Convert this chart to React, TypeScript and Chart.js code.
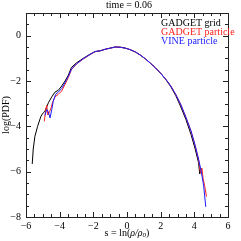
import React, { useEffect, useRef } from "react";
import { Chart, registerables } from "chart.js";

Chart.register(...registerables);

const titleText = "time = 0.06";
const seriesNames = ["GADGET grid", "GADGET particle", "VINE particle"];
const seriesColors = ["#000000", "#ff2020", "#1a1aff"];

const gridS = [-5.63, -5.57, -5.47, -5.31, -5.11, -4.97, -4.87, -4.67, -4.47, -4.28, -4.08, -3.88, -3.68, -3.49, -3.3, -3.0, -2.6, -2.2, -1.9, -1.6, -1.3, -1.0, -0.7, -0.4, -0.1, 0.2, 0.5, 0.8, 1.1, 1.4, 1.7, 2.0, 2.3, 2.6, 2.9, 3.2, 3.5, 3.8, 4.05, 4.25, 4.32, 4.38, 4.43];
const gridV = [-5.66, -5.0, -4.44, -4.0, -3.55, -3.4, -3.33, -2.96, -2.7, -2.49, -2.41, -2.22, -2.0, -1.75, -1.4, -1.2, -1.0, -0.82, -0.7, -0.67, -0.6, -0.55, -0.5, -0.51, -0.55, -0.62, -0.72, -0.86, -1.03, -1.22, -1.43, -1.66, -1.93, -2.25, -2.65, -3.15, -3.7, -4.35, -5.0, -5.6, -6.1, -5.95, -5.85];

const gadgetS = [-4.91, -4.83, -4.77, -4.7, -4.6, -4.51, -4.43, -4.28, -4.08, -3.88, -3.68, -3.49, -3.3, -3.0, -2.6, -2.2, -1.9, -1.6, -1.3, -1.0, -0.7, -0.4, -0.1, 0.2, 0.5, 0.8, 1.1, 1.4, 1.7, 2.0, 2.3, 2.6, 2.9, 3.2, 3.5, 3.8, 4.05, 4.25, 4.37, 4.45, 4.52, 4.62, 4.72];
const gadgetV = [-3.78, -3.26, -3.08, -3.5, -3.35, -3.19, -2.96, -2.7, -2.59, -2.44, -2.15, -1.85, -1.5, -1.25, -1.03, -0.84, -0.71, -0.67, -0.6, -0.55, -0.5, -0.51, -0.55, -0.62, -0.72, -0.86, -1.03, -1.22, -1.43, -1.66, -1.92, -2.22, -2.6, -3.05, -3.6, -4.2, -4.85, -5.45, -6.05, -5.85, -6.3, -6.65, -7.1];

const vineS = [-4.87, -4.77, -4.68, -4.57, -4.47, -4.38, -4.24, -4.08, -3.88, -3.68, -3.49, -3.3, -3.0, -2.6, -2.2, -1.9, -1.6, -1.3, -1.0, -0.7, -0.4, -0.1, 0.2, 0.5, 0.8, 1.1, 1.4, 1.7, 2.0, 2.3, 2.6, 2.9, 3.2, 3.5, 3.8, 4.05, 4.25, 4.4, 4.55, 4.68];
const vineV = [-3.52, -3.26, -3.35, -3.63, -3.26, -2.89, -2.59, -2.49, -2.33, -2.07, -1.8, -1.48, -1.24, -1.02, -0.83, -0.7, -0.67, -0.6, -0.55, -0.5, -0.51, -0.55, -0.62, -0.72, -0.86, -1.03, -1.22, -1.43, -1.66, -1.92, -2.22, -2.6, -3.05, -3.6, -4.2, -4.85, -5.45, -5.95, -6.6, -7.55];

const xMajorTicks = [-6, -4, -2, 0, 2, 4, 6];
const yMajorTicks = [-8, -6, -4, -2, 0];

const X_MIN = -6, X_MAX = 6, Y_MIN = -8, Y_MAX = 1;
const SERIF = "'Liberation Serif', 'DejaVu Serif', serif";

const toPoints = (s: number[], v: number[]) => s.map((x, i) => ({ x, y: v[i] }));

const framePlugin = {
  id: "frameTicks",
  afterDraw(chart: any) {
    const { ctx, chartArea: a, scales } = chart;
    const xs = scales.x, ys = scales.y;
    ctx.save();
    ctx.strokeStyle = "#222";
    ctx.lineWidth = 1;
    ctx.strokeRect(Math.round(a.left) + 0.5, Math.round(a.top) + 0.5, Math.round(a.right - a.left), Math.round(a.bottom - a.top));
    ctx.beginPath();
    for (let v = X_MIN; v <= X_MAX + 1e-9; v += 0.5) {
      const px = Math.round(xs.getPixelForValue(v)) + 0.5;
      const major = Math.abs(v / 2 - Math.round(v / 2)) < 1e-6;
      const len = major ? 5 : 3;
      ctx.moveTo(px, a.bottom); ctx.lineTo(px, a.bottom - len);
      ctx.moveTo(px, a.top); ctx.lineTo(px, a.top + len);
    }
    for (let v = Y_MIN; v <= Y_MAX + 1e-9; v += 0.5) {
      const py = Math.round(ys.getPixelForValue(v)) + 0.5;
      const major = Math.abs(v / 2 - Math.round(v / 2)) < 1e-6;
      const len = major ? 5 : 3;
      ctx.moveTo(a.left, py); ctx.lineTo(a.left + len, py);
      ctx.moveTo(a.right, py); ctx.lineTo(a.right - len, py);
    }
    ctx.stroke();

    // title
    ctx.fillStyle = "#000";
    ctx.textAlign = "center";
    ctx.textBaseline = "middle";
    ctx.font = `10px ${SERIF}`;
    ctx.fillText(titleText, (a.left + a.right) / 2 + 2, 5);

    // legend
    ctx.textAlign = "left";
    ctx.font = `10px ${SERIF}`;
    seriesNames.forEach((n, i) => {
      ctx.fillStyle = seriesColors[i];
      ctx.fillText(n, 161, 23 + i * 9);
    });

    // y axis title
    ctx.fillStyle = "#000";
    ctx.save();
    ctx.translate(6, (a.top + a.bottom) / 2);
    ctx.rotate(-Math.PI / 2);
    ctx.textAlign = "center";
    ctx.font = `10px ${SERIF}`;
    ctx.fillText("log(PDF)", 0, 0);
    ctx.restore();

    // x axis title: s = ln(ρ/ρ0)
    const parts: [string, string, number][] = [
      ["s = ln(", `10px ${SERIF}`, 0],
      ["ρ/ρ", `italic 10px ${SERIF}`, 0],
      ["0", `italic 7px ${SERIF}`, 2],
      [")", `10px ${SERIF}`, 0],
    ];
    let total = 0;
    parts.forEach(([t, f]) => { ctx.font = f; total += ctx.measureText(t).width; });
    let x = (a.left + a.right) / 2 - total / 2;
    ctx.textAlign = "left";
    parts.forEach(([t, f, dy]) => {
      ctx.font = f;
      ctx.fillText(t, x, 233 + dy);
      x += ctx.measureText(t).width;
    });
    ctx.restore();
  },
};

export default function App() {
  const ref = useRef<HTMLCanvasElement>(null);
  useEffect(() => {
    if (!ref.current) return;
    const chart = new Chart(ref.current, {
      type: "line",
      data: {
        datasets: [
          { label: seriesNames[0], data: toPoints(gridS, gridV), borderColor: seriesColors[0], order: 3 },
          { label: seriesNames[1], data: toPoints(gadgetS, gadgetV), borderColor: seriesColors[1], order: 2 },
          { label: seriesNames[2], data: toPoints(vineS, vineV), borderColor: seriesColors[2], order: 1 },
        ].map((d) => ({ ...d, borderWidth: 1, pointRadius: 0, tension: 0, fill: false })),
      },
      options: {
        responsive: false,
        devicePixelRatio: 1,
        animation: false,
        layout: { padding: { top: 13, right: 13, left: 0, bottom: 0 } },
        plugins: { legend: { display: false }, tooltip: { enabled: false }, title: { display: false } },
        scales: {
          x: {
            type: "linear",
            min: X_MIN,
            max: X_MAX,
            grid: { display: false, drawTicks: false },
            border: { display: false },
            afterBuildTicks: (s: any) => { s.ticks = xMajorTicks.map((v) => ({ value: v })); },
            afterFit: (s: any) => { s.height = 24; },
            ticks: {
              padding: 3,
              maxRotation: 0,
              autoSkip: false,
              color: "#000",
              font: { family: SERIF, size: 10 },
              callback: (v: any) => (Number(v) < 0 ? "\u2212" + Math.abs(Number(v)) : String(v)),
            },
          },
          y: {
            type: "linear",
            min: Y_MIN,
            max: Y_MAX,
            grid: { display: false, drawTicks: false },
            border: { display: false },
            afterBuildTicks: (s: any) => { s.ticks = yMajorTicks.map((v) => ({ value: v })); },
            afterFit: (s: any) => { s.width = 26; },
            ticks: {
              padding: 5,
              autoSkip: false,
              color: "#000",
              font: { family: SERIF, size: 10 },
              callback: (v: any) => (Number(v) < 0 ? "\u2212" + Math.abs(Number(v)) : String(v)),
            },
          },
        },
      },
      plugins: [framePlugin],
    } as any);
    return () => chart.destroy();
  }, []);
  return (
    <div style={{ position: "absolute", left: 0, top: 0, width: 241, height: 241, background: "#fff" }}>
      <canvas ref={ref} width={241} height={241} />
    </div>
  );
}
